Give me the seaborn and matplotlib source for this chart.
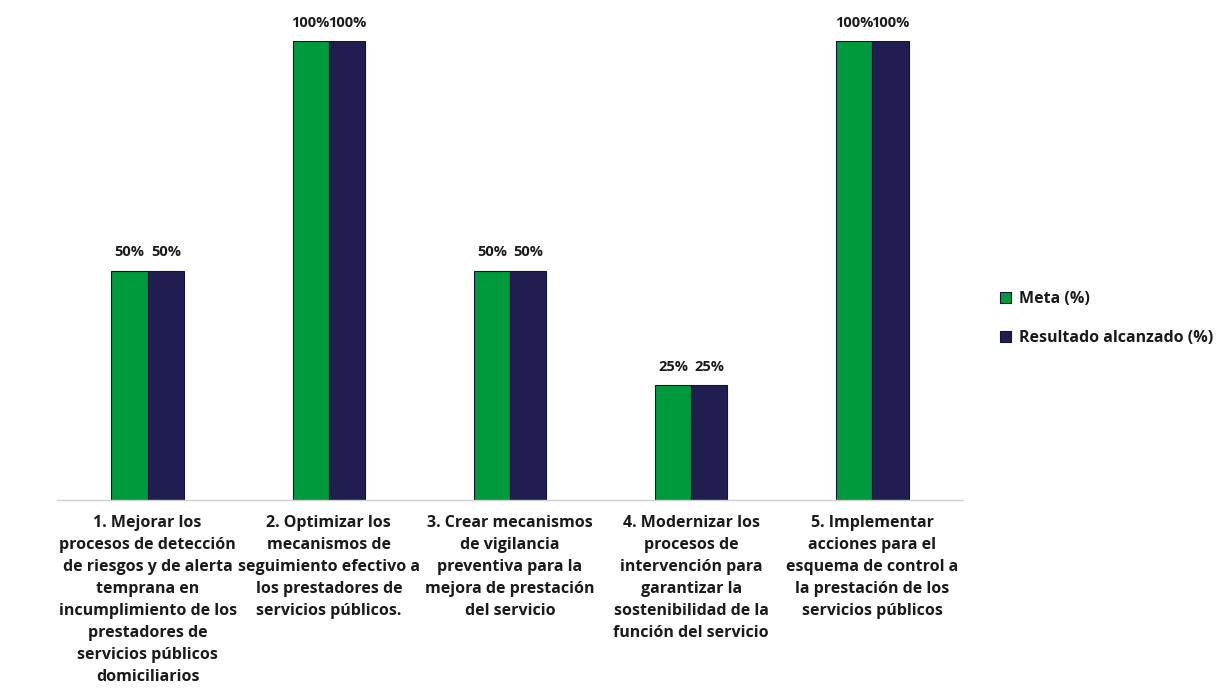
import pandas as pd
import matplotlib
matplotlib.use('Agg')
import matplotlib.pyplot as plt
import seaborn as sns

# ---- DATA ----
categorias = [
    "1. Mejorar los\nprocesos de detección\nde riesgos y de alerta\ntemprana en\nincumplimiento de los\nprestadores de\nservicios públicos\ndomiciliarios",
    "2. Optimizar los\nmecanismos de\nseguimiento efectivo a\nlos prestadores de\nservicios públicos.",
    "3. Crear mecanismos\nde vigilancia\npreventiva para la\nmejora de prestación\ndel servicio",
    "4. Modernizar los\nprocesos de\nintervención para\ngarantizar la\nsostenibilidad de la\nfunción del servicio",
    "5. Implementar\nacciones para el\nesquema de control a\nla prestación de los\nservicios públicos",
]
meta = [50, 100, 50, 25, 100]
resultado = [50, 100, 50, 25, 100]
series = ["Meta (%)", "Resultado alcanzado (%)"]
colores = ["#009A3E", "#201D50"]

df = pd.DataFrame({
    "cat": categorias * 2,
    "serie": [series[0]] * len(meta) + [series[1]] * len(resultado),
    "valor": meta + resultado,
})

sns.set_style("white")
plt.rcParams['font.family'] = ['Open Sans', 'DejaVu Sans']
plt.rcParams['font.weight'] = 'bold'

fig = plt.figure(figsize=(12.32, 6.96), dpi=100)
ax = fig.add_axes([0.0463, 0.2816, 0.7354, 0.6595])

sns.barplot(data=df, x="cat", y="valor", hue="serie", palette=colores,
            saturation=1, width=0.4, edgecolor="#14123a", linewidth=0.8,
            ax=ax, legend=True)

for cont in ax.containers:
    ax.bar_label(cont, labels=[f"{v:.0f}%" for v in cont.datavalues],
                 padding=8, fontsize=10.5, fontweight='bold', color='#1a1a1a',
                 clip_on=False)

ax.set_ylim(0, 100)
ax.set_xlim(-0.5, 4.5)
ax.set_yticks([])
ax.set_xlabel("")
ax.set_ylabel("")
for s in ["top", "right", "left"]:
    ax.spines[s].set_visible(False)
ax.spines["bottom"].set_color("#d0d0d0")
ax.spines["bottom"].set_linewidth(1)
ax.tick_params(axis='x', length=0, pad=11)
for t in ax.get_xticklabels():
    t.set_fontsize(11.5)
    t.set_fontweight('bold')
    t.set_color('#1a1a1a')
    t.set_linespacing(1.5)
    t.set_verticalalignment('top')

leg = ax.legend(loc='center left', bbox_to_anchor=(1.025, 0.395), frameon=False,
                fontsize=11.5, handlelength=0.7, handleheight=0.7,
                handletextpad=0.5, labelspacing=1.45)
for t in leg.get_texts():
    t.set_color('#1a1a1a')
    t.set_fontweight('bold')

fig.savefig("out.png", dpi=100, facecolor='white')
